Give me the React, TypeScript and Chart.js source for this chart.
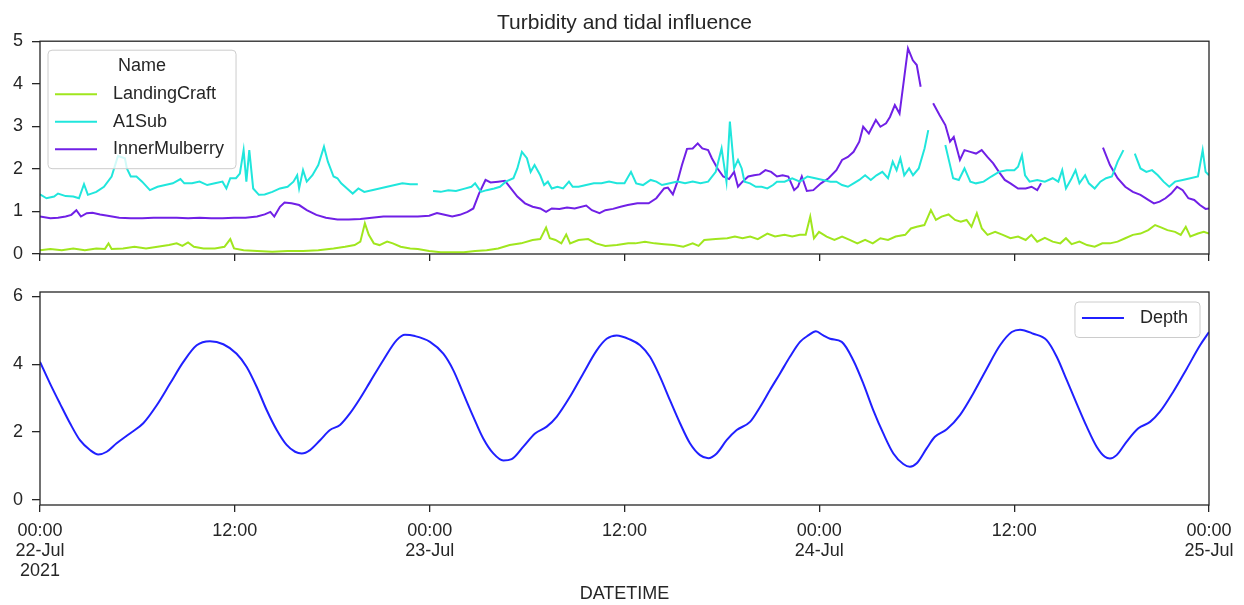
import { useEffect, useRef } from "react";
import { Chart, registerables } from "chart.js";
Chart.register(...registerables);

// ---------- data ----------
const tickHours = [0, 12, 24, 36, 48, 60, 72];
const tickLabels = [
  ["00:00", "22-Jul", "2021"],
  ["12:00"],
  ["00:00", "23-Jul"],
  ["12:00"],
  ["00:00", "24-Jul"],
  ["12:00"],
  ["00:00", "25-Jul"],
];
const topYTicks = [0, 1, 2, 3, 4, 5];
const bottomYTicks = [0, 2, 4, 6];

const seriesNames = ["LandingCraft", "A1Sub", "InnerMulberry"];
const seriesColors = ["#a0e61e", "#20e6dc", "#7020e6"];
const depthName = "Depth";
const depthColor = "#2020ff";

const landingHours = [0, 0.64, 1.34, 2.05, 2.76, 3.47, 4.0, 4.22, 4.41, 5.12, 5.82, 6.53, 7.24, 7.94, 8.42, 8.77, 9.12, 9.48, 10.07, 10.77, 11.36, 11.72, 11.95, 12.54, 13.37, 14.31, 15.25, 16.2, 17.14, 18.08, 18.79, 19.38, 19.73, 20.01, 20.25, 20.56, 20.91, 21.38, 21.73, 22.21, 22.8, 23.27, 23.97, 24.68, 25.39, 26.1, 26.8, 27.51, 28.22, 28.93, 29.63, 30.34, 30.81, 31.17, 31.4, 31.75, 32.11, 32.41, 32.65, 33.17, 33.76, 34.24, 34.82, 35.53, 36.23, 36.67, 37.26, 37.85, 38.44, 39.03, 39.62, 40.2, 40.56, 40.91, 41.62, 42.33, 42.8, 43.27, 43.74, 44.21, 44.8, 45.27, 45.86, 46.33, 46.8, 47.16, 47.44, 47.67, 47.98, 48.45, 48.93, 49.4, 49.87, 50.34, 50.82, 51.29, 51.76, 52.23, 52.7, 53.29, 53.64, 54.0, 54.47, 54.87, 55.18, 55.53, 55.96, 56.36, 56.71, 57.07, 57.37, 57.7, 58.01, 58.36, 58.83, 59.3, 59.77, 60.24, 60.71, 61.06, 61.42, 61.89, 62.37, 62.84, 63.19, 63.54, 64.02, 64.49, 64.96, 65.43, 65.9, 66.37, 66.84, 67.31, 67.78, 68.26, 68.68, 69.08, 69.44, 69.91, 70.26, 70.57, 70.85, 71.32, 71.68, 72.0];
const landingValues = [0.09, 0.12, 0.09, 0.13, 0.09, 0.13, 0.12, 0.25, 0.12, 0.13, 0.17, 0.13, 0.17, 0.21, 0.25, 0.19, 0.27, 0.17, 0.13, 0.13, 0.17, 0.35, 0.13, 0.09, 0.07, 0.05, 0.07, 0.07, 0.09, 0.13, 0.17, 0.21, 0.29, 0.72, 0.45, 0.25, 0.21, 0.29, 0.25, 0.17, 0.13, 0.12, 0.07, 0.04, 0.04, 0.04, 0.07, 0.09, 0.13, 0.21, 0.25, 0.33, 0.35, 0.62, 0.37, 0.33, 0.25, 0.46, 0.25, 0.33, 0.35, 0.25, 0.19, 0.21, 0.25, 0.25, 0.29, 0.25, 0.23, 0.21, 0.17, 0.25, 0.19, 0.33, 0.35, 0.37, 0.41, 0.37, 0.41, 0.35, 0.48, 0.41, 0.45, 0.41, 0.45, 0.45, 0.88, 0.37, 0.52, 0.41, 0.33, 0.41, 0.33, 0.25, 0.33, 0.25, 0.37, 0.33, 0.41, 0.45, 0.6, 0.64, 0.68, 1.03, 0.8, 0.88, 0.93, 0.8, 0.76, 0.8, 0.64, 0.96, 0.6, 0.45, 0.52, 0.45, 0.37, 0.41, 0.33, 0.45, 0.29, 0.38, 0.29, 0.25, 0.37, 0.23, 0.29, 0.21, 0.17, 0.25, 0.25, 0.29, 0.37, 0.45, 0.48, 0.56, 0.68, 0.62, 0.56, 0.52, 0.45, 0.64, 0.41, 0.48, 0.52, 0.48];

const a1Hours = [0, 0.4, 0.87, 1.11, 1.58, 2.05, 2.4, 2.71, 2.95, 3.47, 3.94, 4.41, 4.8, 5.23, 5.35, 5.59, 5.94, 6.29, 6.77, 7.24, 7.71, 8.18, 8.65, 8.89, 9.36, 9.83, 10.3, 10.77, 11.24, 11.48, 11.72, 12.07, 12.31, 12.54, 12.71, 12.89, 13.13, 13.48, 13.84, 14.31, 14.78, 15.25, 15.61, 15.84, 15.96, 16.2, 16.43, 16.78, 17.14, 17.49, 17.73, 18.08, 18.32, 18.55, 18.91, 19.26, 19.61, 19.97, 20.44, 20.91, 21.38, 21.85, 22.32, 22.8, 23.27, 23.7, 24.21, 24.68, 25.15, 25.62, 26.1, 26.57, 26.8, 27.16, 27.51, 27.98, 28.33, 28.69, 29.16, 29.4, 29.68, 29.99, 30.22, 30.46, 30.81, 31.05, 31.28, 31.52, 31.87, 32.22, 32.58, 32.81, 33.17, 33.64, 34.11, 34.58, 35.05, 35.53, 36.0, 36.4, 36.72, 37.14, 37.61, 37.96, 38.31, 38.79, 39.26, 39.73, 40.2, 40.68, 41.15, 41.62, 41.98, 42.28, 42.49, 42.75, 42.99, 43.22, 43.39, 43.73, 44.09, 44.44, 44.8, 45.15, 45.39, 45.86, 46.33, 46.8, 47.27, 47.75, 48.22, 48.69, 49.05, 49.4, 49.76, 50.11, 50.46, 50.82, 51.17, 51.52, 51.88, 52.23, 52.52, 52.76, 52.99, 53.23, 53.53, 53.77, 54.12, 54.48, 54.71, 55.2, 55.76, 56.0, 56.24, 56.59, 56.94, 57.3, 57.65, 58.12, 58.59, 59.06, 59.54, 60.01, 60.24, 60.48, 60.67, 60.95, 61.42, 61.89, 62.37, 62.72, 62.96, 63.19, 63.54, 63.78, 64.02, 64.37, 64.6, 64.96, 65.31, 65.66, 66.02, 66.37, 66.73, 67.0, 67.43, 67.78, 68.14, 68.49, 68.85, 69.2, 69.55, 69.91, 70.38, 70.85, 71.32, 71.61, 71.79, 72.0];
const a1Values = [1.4, 1.31, 1.35, 1.42, 1.36, 1.35, 1.31, 1.64, 1.39, 1.46, 1.58, 1.82, 2.3, 2.25, 2.01, 1.82, 1.82, 1.7, 1.5, 1.58, 1.62, 1.66, 1.76, 1.66, 1.66, 1.7, 1.62, 1.66, 1.7, 1.54, 1.78, 1.78, 1.89, 2.44, 1.7, 2.44, 1.54, 1.39, 1.4, 1.46, 1.54, 1.58, 1.7, 1.85, 1.54, 1.97, 1.7, 1.85, 2.09, 2.52, 2.17, 1.82, 1.78, 1.66, 1.54, 1.42, 1.54, 1.46, 1.5, 1.54, 1.58, 1.62, 1.66, 1.64, 1.64, null, 1.48, 1.46, 1.5, 1.48, 1.53, 1.58, 1.66, 1.46, 1.5, 1.54, 1.58, 1.7, 1.78, 2.01, 2.4, 2.25, 1.93, 2.09, 1.85, 1.62, 1.7, 1.54, 1.58, 1.54, 1.7, 1.58, 1.58, 1.62, 1.66, 1.66, 1.7, 1.66, 1.66, 1.93, 1.66, 1.62, 1.74, 1.7, 1.62, 1.66, 1.7, 1.66, 1.7, 1.66, 1.7, 1.93, 2.48, 1.7, 3.11, 2.01, 2.21, 2.01, 1.7, 1.66, 1.58, 1.58, 1.54, 1.62, 1.7, 1.7, 1.78, 1.7, 1.82, 1.78, 1.74, 1.7, 1.7, 1.62, 1.58, 1.66, 1.74, 1.85, 1.74, 1.85, 1.93, 1.78, 2.17, 1.97, 2.25, 1.85, 2.01, 1.85, 2.01, 2.48, 2.91, null, 2.56, 2.17, 1.78, 1.74, 2.01, 1.7, 1.66, 1.7, 1.82, 1.93, 1.97, 1.97, 2.05, 2.32, 1.85, 1.7, 1.74, 1.7, 1.78, 1.7, 1.97, 1.54, 1.78, 1.97, 1.66, 1.85, 1.66, 1.54, 1.7, 1.78, 1.82, 2.17, 2.44, null, 2.36, 2.01, 1.93, 1.97, 1.85, 1.7, 1.58, 1.7, 1.74, 1.78, 1.82, 2.44, 1.93, 1.85];

const innerHours = [0, 0.64, 1.11, 1.58, 1.93, 2.24, 2.52, 2.88, 3.23, 3.7, 4.17, 4.88, 5.59, 6.29, 7.0, 7.71, 8.42, 9.12, 9.83, 10.54, 11.24, 11.95, 12.66, 13.37, 13.84, 14.19, 14.43, 14.78, 15.06, 15.49, 15.96, 16.43, 17.02, 17.61, 18.32, 19.02, 19.73, 20.44, 21.15, 21.85, 22.56, 23.27, 23.97, 24.45, 24.92, 25.39, 25.86, 26.33, 26.69, 27.04, 27.44, 27.75, 28.22, 28.64, 28.93, 29.4, 29.87, 30.34, 30.81, 31.17, 31.52, 31.99, 32.46, 32.93, 33.64, 33.99, 34.46, 34.82, 35.29, 35.76, 36.2, 36.79, 37.49, 37.96, 38.44, 38.67, 38.98, 39.26, 39.54, 39.85, 40.2, 40.51, 40.79, 41.15, 41.38, 41.73, 42.08, 42.44, 42.75, 42.99, 43.27, 43.62, 43.98, 44.33, 44.68, 45.03, 45.39, 45.74, 46.09, 46.45, 46.68, 46.92, 47.23, 47.63, 48.1, 48.57, 49.05, 49.4, 49.76, 50.11, 50.46, 50.7, 51.05, 51.48, 51.76, 52.11, 52.35, 52.65, 52.94, 53.22, 53.46, 53.76, 54.0, 54.24, 54.6, 55.01, 55.41, 55.76, 56.05, 56.28, 56.66, 56.94, 57.3, 57.65, 58.0, 58.35, 58.71, 59.06, 59.42, 59.77, 60.24, 60.71, 61.07, 61.42, 61.66, 63.5, 65.47, 65.9, 66.37, 66.84, 67.31, 67.78, 68.26, 68.61, 68.96, 69.32, 69.67, 70.03, 70.38, 70.73, 71.09, 71.44, 71.79, 72.0];
const innerValues = [0.88, 0.84, 0.85, 0.88, 0.92, 1.03, 0.88, 0.96, 0.97, 0.93, 0.9, 0.85, 0.84, 0.84, 0.85, 0.85, 0.85, 0.84, 0.85, 0.84, 0.84, 0.85, 0.85, 0.88, 0.93, 0.99, 0.88, 1.11, 1.21, 1.19, 1.15, 1.03, 0.92, 0.85, 0.81, 0.81, 0.82, 0.85, 0.88, 0.88, 0.88, 0.88, 0.9, 0.96, 0.92, 0.88, 0.92, 0.99, 1.07, 1.42, 1.74, 1.68, 1.7, 1.72, 1.58, 1.35, 1.19, 1.11, 1.07, 0.99, 1.07, 1.06, 1.09, 1.07, 1.14, 1.03, 0.96, 1.03, 1.06, 1.11, 1.15, 1.19, 1.19, 1.31, 1.54, 1.56, 1.4, 1.7, 2.09, 2.47, 2.48, 2.6, 2.48, 2.44, 2.25, 2.01, 1.82, 1.76, 1.93, 1.58, 1.7, 1.82, 1.85, 1.87, 1.97, 1.93, 1.82, 1.85, 1.82, 1.5, 1.58, 1.82, 1.48, 1.5, 1.66, 1.78, 1.97, 2.21, 2.28, 2.4, 2.64, 2.99, 2.83, 3.15, 2.99, 3.07, 3.22, 3.5, 3.3, 4.12, 4.83, 4.55, 4.44, 3.93, null, 3.54, 3.26, 3.03, 2.64, 2.75, 2.21, 2.44, 2.4, 2.36, 2.44, 2.28, 2.13, 1.93, 1.74, 1.66, 1.54, 1.54, 1.58, 1.5, 1.66, null, 2.5, 2.09, 1.78, 1.58, 1.46, 1.39, 1.27, 1.19, 1.23, 1.31, 1.42, 1.58, 1.5, 1.31, 1.27, 1.15, 1.06, 1.07];

const depthHours = [0, 0.62, 1.23, 1.85, 2.46, 3.08, 3.59, 4.11, 4.72, 5.54, 6.36, 7.19, 8.01, 8.83, 9.65, 10.47, 11.29, 12.11, 12.73, 13.35, 13.96, 14.58, 15.19, 15.71, 16.12, 16.63, 17.25, 17.86, 18.48, 19.09, 19.71, 20.33, 21.14, 21.97, 22.48, 23.1, 24.02, 24.84, 25.46, 26.07, 26.69, 27.3, 27.92, 28.54, 29.05, 29.77, 30.49, 31.21, 31.82, 32.64, 33.46, 34.29, 34.9, 35.52, 36.34, 36.96, 37.57, 38.19, 38.8, 39.42, 40.03, 40.65, 41.16, 41.68, 42.29, 42.91, 43.73, 44.35, 44.96, 45.58, 46.19, 46.81, 47.32, 47.79, 48.24, 48.66, 49.38, 50.09, 50.71, 51.32, 51.94, 52.56, 53.17, 53.58, 54.0, 54.61, 55.12, 55.85, 56.66, 57.48, 58.31, 59.13, 59.85, 60.36, 61.18, 62.0, 62.62, 63.24, 63.85, 64.47, 65.08, 65.59, 65.9, 66.31, 66.93, 67.65, 68.37, 68.98, 69.8, 70.63, 71.45, 72.0];
const depthValues = [4.07, 3.43, 2.84, 2.26, 1.76, 1.47, 1.34, 1.42, 1.67, 1.96, 2.26, 2.79, 3.43, 4.07, 4.56, 4.68, 4.59, 4.31, 3.92, 3.33, 2.65, 2.06, 1.62, 1.42, 1.37, 1.47, 1.76, 2.06, 2.21, 2.55, 2.99, 3.48, 4.12, 4.71, 4.87, 4.83, 4.66, 4.31, 3.82, 3.14, 2.45, 1.81, 1.37, 1.16, 1.2, 1.57, 1.96, 2.16, 2.45, 3.04, 3.73, 4.41, 4.75, 4.85, 4.73, 4.56, 4.22, 3.63, 2.94, 2.26, 1.67, 1.32, 1.23, 1.37, 1.76, 2.06, 2.3, 2.74, 3.24, 3.73, 4.22, 4.66, 4.85, 4.97, 4.85, 4.75, 4.66, 4.12, 3.43, 2.65, 1.96, 1.37, 1.06, 0.98, 1.08, 1.52, 1.86, 2.08, 2.5, 3.14, 3.87, 4.56, 4.95, 5.02, 4.9, 4.71, 4.22, 3.53, 2.84, 2.16, 1.57, 1.27, 1.22, 1.32, 1.72, 2.11, 2.3, 2.6, 3.19, 3.87, 4.56, 4.95];

const turbHours = [landingHours, a1Hours, innerHours];
const turbValues = [landingValues, a1Values, innerValues];

// ---------- style ----------
const FONT = '"Liberation Sans", Arial, Helvetica, sans-serif';
const INK = "#262626";

function toPoints(xs: number[], ys: (number | null)[]) {
  return xs.map((x, i) => ({ x, y: ys[i] }));
}

const spinePlugin = {
  id: "spines",
  afterDatasetsDraw(chart: any) {
    const { ctx, chartArea: a } = chart;
    ctx.save();
    ctx.strokeStyle = INK;
    ctx.lineWidth = 1.3;
    ctx.strokeRect(a.left, a.top, a.right - a.left, a.bottom - a.top);
    ctx.restore();
  },
};

function makeLegend(opts: { title?: string; corner: "tl" | "tr"; rowGap: number }) {
  return {
    id: "mplLegend",
    afterDraw(chart: any) {
      const { ctx, chartArea: a } = chart;
      const ds = chart.data.datasets;
      ctx.save();
      ctx.font = `18px ${FONT}`;
      let maxW = 0;
      ds.forEach((d: any) => (maxW = Math.max(maxW, ctx.measureText(d.label).width)));
      const lineX0 = 7, lineLen = 42, textOff = 65;
      const w = textOff + maxW + 12;
      const titleH = opts.title ? 28 : 0;
      const h = titleH + ds.length * opts.rowGap + 8;
      const x = opts.corner === "tl" ? a.left + 8 : a.right - 9 - w;
      const y = a.top + (opts.corner === "tl" ? 9 : 10);
      const r = 4;
      ctx.beginPath();
      ctx.moveTo(x + r, y);
      ctx.arcTo(x + w, y, x + w, y + h, r);
      ctx.arcTo(x + w, y + h, x, y + h, r);
      ctx.arcTo(x, y + h, x, y, r);
      ctx.arcTo(x, y, x + w, y, r);
      ctx.closePath();
      ctx.fillStyle = "rgba(255,255,255,0.8)";
      ctx.fill();
      ctx.strokeStyle = "#cccccc";
      ctx.lineWidth = 1;
      ctx.stroke();
      ctx.fillStyle = INK;
      ctx.textBaseline = "middle";
      if (opts.title) {
        ctx.textAlign = "center";
        ctx.fillText(opts.title, x + w / 2, y + 16);
      }
      ctx.textAlign = "left";
      ds.forEach((d: any, i: number) => {
        const cy = y + titleH + 16 + i * opts.rowGap;
        ctx.strokeStyle = d.borderColor;
        ctx.lineWidth = 2;
        ctx.beginPath();
        ctx.moveTo(x + lineX0, cy);
        ctx.lineTo(x + lineX0 + lineLen, cy);
        ctx.stroke();
        ctx.fillStyle = INK;
        ctx.fillText(d.label, x + textOff, cy);
      });
      ctx.restore();
    },
  };
}

function xScale(showLabels: boolean, height: number) {
  return {
    type: "linear",
    min: 0,
    max: 72,
    afterBuildTicks: (s: any) => {
      s.ticks = tickHours.map((v) => ({ value: v }));
    },
    ticks: {
      autoSkip: false,
      maxRotation: 0,
      padding: 9,
      color: INK,
      font: { family: FONT, size: 18, lineHeight: 1.12 },
      callback: (v: number) => (showLabels ? tickLabels[tickHours.indexOf(v)] : ""),
    },
    grid: { drawOnChartArea: false, drawTicks: true, tickLength: 7, color: INK, lineWidth: 1.3 },
    border: { display: false },
    title: showLabels
      ? { display: true, text: "DATETIME", color: INK, font: { family: FONT, size: 18 }, padding: { top: 0, bottom: 0 } }
      : { display: false },
    afterFit: (s: any) => {
      s.height = height;
      s.paddingLeft = 0;
      s.paddingRight = 0;
    },
  };
}

function yScale(min: number, max: number, ticks: number[]) {
  return {
    min,
    max,
    afterBuildTicks: (s: any) => {
      s.ticks = ticks.map((v) => ({ value: v }));
    },
    ticks: { color: INK, padding: 9, font: { family: FONT, size: 18 } },
    grid: { drawOnChartArea: false, drawTicks: true, tickLength: 8, color: INK, lineWidth: 1.3 },
    border: { display: false },
    afterFit: (s: any) => {
      s.width = 40;
      s.paddingTop = 0;
      s.paddingBottom = 0;
    },
  };
}

export default function App() {
  const topRef = useRef<HTMLCanvasElement>(null);
  const botRef = useRef<HTMLCanvasElement>(null);

  useEffect(() => {
    const top = new Chart(topRef.current as HTMLCanvasElement, {
      type: "line",
      data: {
        datasets: seriesNames.map((name, i) => ({
          label: name,
          data: toPoints(turbHours[i], turbValues[i]),
          borderColor: seriesColors[i],
          backgroundColor: seriesColors[i],
          borderWidth: 2,
          pointRadius: 0,
          tension: 0,
          spanGaps: false,
        })),
      },
      options: {
        responsive: false,
        animation: false,
        layout: { padding: { left: 0, right: 35, top: 0, bottom: 0 } },
        plugins: {
          legend: { display: false },
          tooltip: { enabled: false },
          title: {
            display: true,
            text: "Turbidity and tidal influence",
            color: INK,
            fullSize: false,
            font: { family: FONT, size: 21, weight: "normal" },
            padding: { top: 11, bottom: 5 },
          },
        },
        scales: { x: xScale(false, 26), y: yScale(0, 5, topYTicks) },
      } as any,
      plugins: [spinePlugin, makeLegend({ title: "Name", corner: "tl", rowGap: 27.5 })],
    });

    const bot = new Chart(botRef.current as HTMLCanvasElement, {
      type: "line",
      data: {
        datasets: [
          {
            label: depthName,
            data: toPoints(depthHours, depthValues),
            borderColor: depthColor,
            backgroundColor: depthColor,
            borderWidth: 2,
            pointRadius: 0,
            cubicInterpolationMode: "monotone",
          },
        ],
      },
      options: {
        responsive: false,
        animation: false,
        layout: { padding: { left: 0, right: 35, top: 12, bottom: 0 } },
        plugins: { legend: { display: false }, tooltip: { enabled: false } },
        scales: { x: xScale(true, 100), y: yScale(-0.15, 6.13, bottomYTicks) },
      } as any,
      plugins: [spinePlugin, makeLegend({ corner: "tr", rowGap: 27.5 })],
    });

    return () => {
      top.destroy();
      bot.destroy();
    };
  }, []);

  return (
    <div style={{ position: "absolute", left: 0, top: 0, width: 1244, height: 605, background: "#fff" }}>
      <canvas ref={topRef} width={1244} height={280} style={{ position: "absolute", left: 0, top: 0 }} />
      <canvas ref={botRef} width={1244} height={325} style={{ position: "absolute", left: 0, top: 280 }} />
    </div>
  );
}
